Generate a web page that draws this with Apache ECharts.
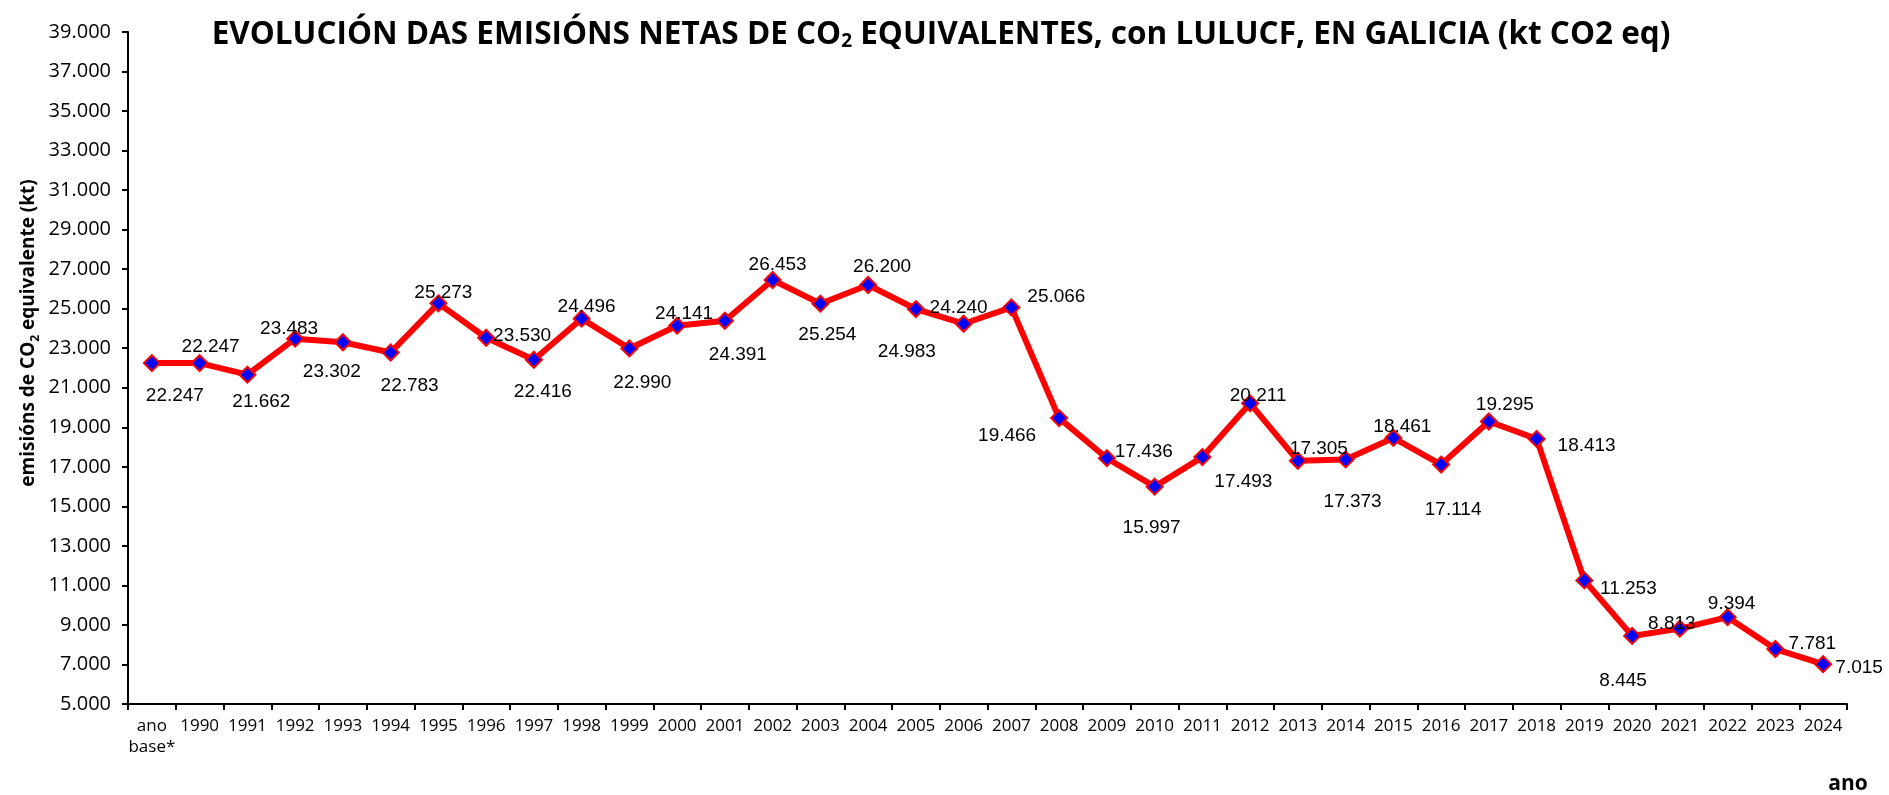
<!DOCTYPE html>
<html>
<head>
<meta charset="utf-8">
<script src="https://cdn.jsdelivr.net/npm/echarts@6/dist/echarts.min.js"></script>
<style>html,body{margin:0;padding:0;background:#fff;}#c{width:1889px;height:795px;}</style>
</head>
<body>
<div id="c"></div>
<script>
const categories = ['ano\nbase*','1990','1991','1992','1993','1994','1995','1996','1997','1998','1999','2000','2001','2002','2003','2004','2005','2006','2007','2008','2009','2010','2011','2012','2013','2014','2015','2016','2017','2018','2019','2020','2021','2022','2023','2024'];
const emissions = [22247,22247,21662,23483,23302,22783,25273,23530,22416,24496,22990,24141,24391,26453,25254,26200,24983,24240,25066,19466,17436,15997,17493,20211,17305,17373,18461,17114,19295,18413,11253,8445,8813,9394,7781,7015];
const yTicks = {min:5000, max:39000, interval:2000};
// label offsets (dx, dy) from each marker centre, as in the reference
const labelOffsets = [[23,33],[11,-16],[14,27],[-6,-10],[-11,29],[19,33],[5,-11],[36,-2],[9,32],[5,-12],[13,34],[7,-12],[13,34],[5,-15],[7,31],[14,-18],[-9,43],[-5,-16],[45,-11],[-52,18],[37,-6],[-3,41],[41,25],[8,-8],[21,-12],[7,42],[9,-11],[12,45],[16,-17],[50,7],[44,8],[-9,45],[-8,-5],[4,-13],[37,-5],[36,4]];

function fmt(v){
  const t = Math.floor(v/1000), r = v%1000;
  return t>0 ? t + '.' + String(r).padStart(3,'0') : String(r);
}

const chart = echarts.init(document.getElementById('c'));
chart.setOption({
  backgroundColor:'#fff',
  animation:false,
  title:{
    text:'{t|EVOLUCIÓN DAS EMISIÓNS NETAS DE CO}{s|2}{t| EQUIVALENTES, con LULUCF, EN GALICIA (kt CO2 eq)}',
    left:936, textAlign:'center', top:6,
    textStyle:{
      rich:{
        t:{fontFamily:'Open Sans', fontWeight:'bold', fontSize:31.5, color:'#000', lineHeight:40, verticalAlign:'bottom'},
        s:{fontFamily:'Open Sans', fontWeight:'bold', fontSize:19, color:'#000', lineHeight:22, verticalAlign:'bottom'}
      }
    }
  },
  grid:{left:128, right:42, top:32, bottom:91},
  xAxis:{
    type:'category', data:categories, boundaryGap:true,
    axisLine:{lineStyle:{color:'#000', width:2}},
    axisTick:{show:true, length:6, lineStyle:{color:'#000', width:2}},
    axisLabel:{fontFamily:'Open Sans', fontSize:17, color:'#000', margin:12, interval:0, lineHeight:21}
  },
  yAxis:{
    type:'value', min:yTicks.min, max:yTicks.max, interval:yTicks.interval,
    axisLine:{show:true, lineStyle:{color:'#000', width:2}},
    axisTick:{show:true, length:6, lineStyle:{color:'#000', width:2}},
    splitLine:{show:false},
    axisLabel:{fontFamily:'Open Sans', fontSize:20, color:'#000', margin:17, formatter:fmt}
  },
  series:[{
    type:'line',
    data:emissions.map((v,i)=>({value:v, label:{offset:labelOffsets[i]}})),
    symbol:'diamond', symbolSize:16,
    lineStyle:{color:'#FF0000', width:6},
    itemStyle:{color:'#0000FF', borderColor:'#FF0000', borderWidth:2},
    label:{show:true, position:'inside', formatter:p=>fmt(p.value), fontFamily:'Liberation Sans', fontSize:19, color:'#000', align:'center', verticalAlign:'middle'}
  }],
  graphic:[
    {type:'text', x:29, y:333, rotation:Math.PI/2,
      style:{text:'{a|emisións de CO}{s|2}{a| equivalente (kt)}', align:'center', verticalAlign:'middle',
        rich:{
          a:{fontFamily:'Open Sans', fontWeight:'bold', fontSize:19, fill:'#000', lineHeight:26, verticalAlign:'middle'},
          s:{fontFamily:'Open Sans', fontWeight:'bold', fontSize:12, fill:'#000', lineHeight:12, verticalAlign:'bottom'}
        }}},
    {type:'text', x:1848, y:784,
      style:{text:'ano', fontFamily:'Open Sans', fontWeight:'bold', fontSize:21, fill:'#000', align:'center', verticalAlign:'middle'}}
  ]
});
</script>
</body>
</html>
